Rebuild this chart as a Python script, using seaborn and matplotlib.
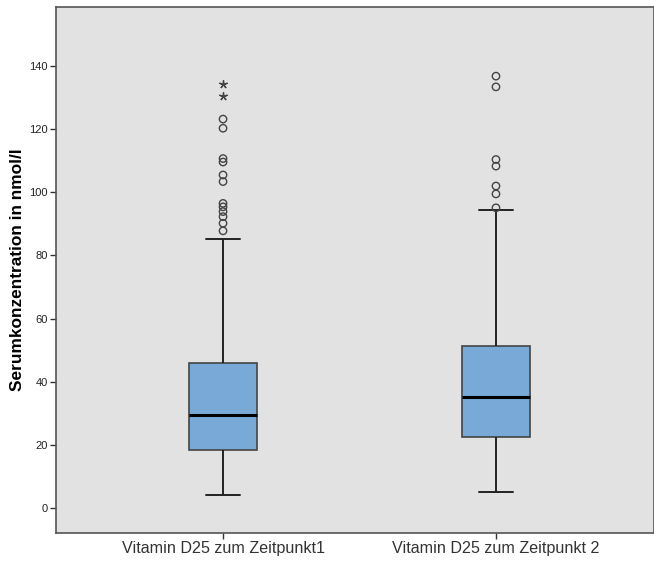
import matplotlib
matplotlib.use("Agg")
import matplotlib.pyplot as plt
import seaborn as sns
import pandas as pd

# Groups (time points)
groups = ["Vitamin D25 zum Zeitpunkt1", "Vitamin D25 zum Zeitpunkt 2"]

# Five-number summaries: lower whisker, Q1, median, Q3, upper whisker
summary_t1 = [4.2, 18.3, 29.5, 45.9, 85.2]
summary_t2 = [5.2, 22.4, 35.2, 51.3, 94.4]

# Outliers (circles) and extreme values (stars)
outliers_t1 = [87.8, 90.2, 92.3, 93.9, 95.4, 96.5, 103.4, 105.5, 109.6, 110.7, 120.3, 123.2]
extremes_t1 = [130.5, 134.3]
outliers_t2 = [95.1, 99.5, 102.0, 108.3, 110.4, 133.4, 136.8]
extremes_t2 = []

y_ticks = [0, 20, 40, 60, 80, 100, 120, 140]

box_df = pd.DataFrame({
    "group": [groups[0]] * len(summary_t1) + [groups[1]] * len(summary_t2),
    "value": summary_t1 + summary_t2,
})
out_df = pd.DataFrame({
    "group": [groups[0]] * len(outliers_t1) + [groups[1]] * len(outliers_t2),
    "value": outliers_t1 + outliers_t2,
})
ext_df = pd.DataFrame({
    "group": [groups[0]] * len(extremes_t1) + [groups[1]] * len(extremes_t2),
    "value": extremes_t1 + extremes_t2,
})

sns.set_theme(style="white")
plt.rcParams["font.family"] = ["Liberation Sans", "DejaVu Sans"]

fig = plt.figure(figsize=(6.54, 5.63), dpi=100)
ax = fig.add_axes([56 / 654, 1 - 533 / 563, 1 - 56 / 654, (533 - 7) / 563])
ax.set_facecolor("#E2E2E2")

sns.boxplot(
    data=box_df, x="group", y="value", order=groups, ax=ax,
    whis=(0, 100), width=0.25, showfliers=False,
    color="#79A9D7", saturation=1, linecolor="#333333", linewidth=1.2,
    boxprops=dict(edgecolor="#444444", linewidth=1.2),
    medianprops=dict(color="black", linewidth=2.2),
    whiskerprops=dict(color="#222222", linewidth=1.4),
    capprops=dict(color="#222222", linewidth=1.4),
)

# Outliers as open circles
sns.stripplot(
    data=out_df, x="group", y="value", order=groups, ax=ax,
    jitter=False, marker="o", size=5.3, facecolors="none",
    edgecolor="#444444", linewidth=1.0, color="#444444", zorder=4,
)
ax.collections[-1].set_facecolor("none")

# Extreme values as asterisks
sns.stripplot(
    data=ext_df, x="group", y="value", order=groups, ax=ax,
    jitter=False, marker=(5, 2, 0), size=5.5,
    edgecolor="#444444", linewidth=1.0, color="#444444", zorder=4,
)

ax.set_xlim(-0.612, 1.579)
ax.set_ylim(-7.9, 158.7)
ax.set_yticks(y_ticks)
ax.set_yticklabels([str(v) for v in y_ticks], fontsize=8, color="#222222")
ax.set_xticks([0, 1])
ax.set_xticklabels(groups, fontsize=11.6, color="#333333")
ax.tick_params(axis="both", direction="out", length=4, width=1, color="#333333",
               left=True, bottom=True, pad=2)
ax.set_xlabel("")
ax.set_ylabel("Serumkonzentration in nmol/l", fontsize=12.4, fontweight="bold",
              color="black", labelpad=3)
for sp in ax.spines.values():
    sp.set_color("#555555")
    sp.set_linewidth(1.2)

fig.savefig("out.png", dpi=100)
